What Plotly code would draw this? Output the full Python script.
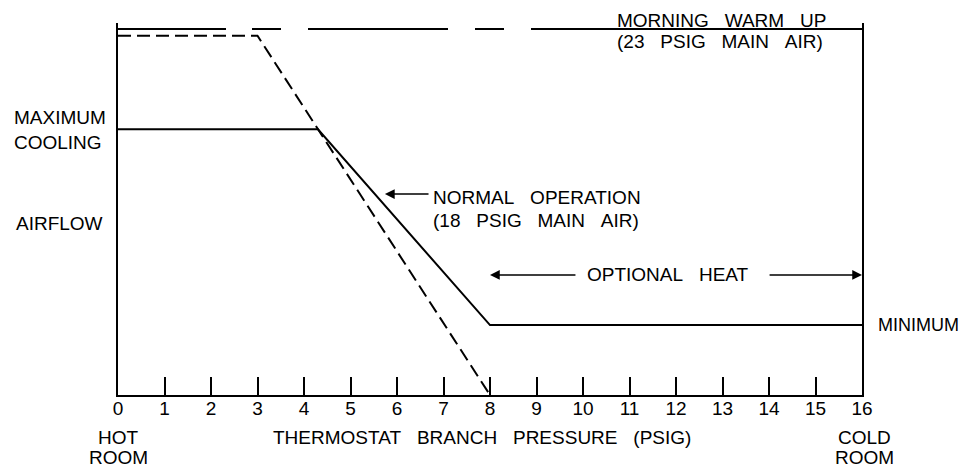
import plotly.graph_objects as go

# ---- data ----
tick_values = [0, 1, 2, 3, 4, 5, 6, 7, 8, 9, 10, 11, 12, 13, 14, 15, 16]
tick_labels = ["0", "1", "2", "3", "4", "5", "6", "7", "8", "9", "10",
               "11", "12", "13", "14", "15", "16"]

# normal operation (18 psig main air): airflow vs branch pressure
normal_pressure = [0, 4.3, 8, 16]
normal_airflow = [100, 100, 26.3, 26.3]

# morning warm-up response (dashed)
warmup_pressure = [0, 3, 8]
warmup_airflow = [135.2, 135.2, 0]

# morning warm-up (23 psig main air) reference line
warmup_main_pressure = [0, 16]
warmup_main_airflow = [137.7, 137.7]

FONT = "Liberation Sans, Arial, sans-serif"
SP = "\u00a0\u00a0\u00a0"

fig = go.Figure()

fig.add_trace(go.Scatter(
    x=warmup_main_pressure, y=warmup_main_airflow, mode="lines",
    line=dict(color="black", width=2,
              dash="108px,26px,29px,27px,140px,27px,29px,27px,340px"),
    hoverinfo="skip", showlegend=False))

fig.add_trace(go.Scatter(
    x=warmup_pressure, y=warmup_airflow, mode="lines",
    line=dict(color="black", width=2, dash="13px,6px"),
    hoverinfo="skip", showlegend=False))

fig.add_trace(go.Scatter(
    x=normal_pressure, y=normal_airflow, mode="lines",
    line=dict(color="black", width=2),
    hoverinfo="skip", showlegend=False))

def txt(text, x, y, xanchor="center", size=19):
    return dict(text=text, x=x, y=y, xref="paper", yref="paper",
                xanchor=xanchor, yanchor="middle", showarrow=False,
                font=dict(family=FONT, size=size, color="black"))

annotations = [
    txt("MAXIMUM", -0.1425, 0.747, "left"),
    txt("COOLING", -0.1425, 0.680, "left"),
    txt("AIRFLOW", -0.078, 0.462),
    txt("HOT", 0.0, -0.113),
    txt("ROOM", 0.0, -0.169),
    txt("COLD", 1.003, -0.113),
    txt("ROOM", 1.003, -0.169),
    txt("THERMOSTAT" + SP + "BRANCH" + SP + "PRESSURE" + SP + "(PSIG)", 0.4886, -0.113),
    txt("MORNING" + SP + "WARM" + SP + "UP", 0.668, 1.008, "left"),
    txt("(23" + SP + "PSIG" + SP + "MAIN" + SP + "AIR)", 0.668, 0.9516, "left"),
    txt("NORMAL" + SP + "OPERATION", 0.421, 0.532, "left"),
    txt("(18" + SP + "PSIG" + SP + "MAIN" + SP + "AIR)", 0.421, 0.470, "left"),
    txt("OPTIONAL" + SP + "HEAT", 0.739, 0.3226),
    txt("MINIMUM", 1.019, 0.188, "left", size=18),
]

def arrow(x, y, ax, ay):
    return dict(text="", x=x, y=y, ax=ax, ay=ay, xref="x", yref="y",
                axref="x", ayref="y", showarrow=True, arrowhead=2,
                arrowsize=1.3, arrowwidth=1.5, arrowcolor="black",
                standoff=0, startstandoff=0)

annotations += [
    arrow(5.74, 75.6, 6.71, 75.6),
    arrow(8.0, 45.2, 9.87, 45.2),
    arrow(16.0, 45.2, 13.98, 45.2),
]

fig.update_layout(
    width=963, height=470,
    margin=dict(l=118, r=101, t=23, b=75),
    paper_bgcolor="white", plot_bgcolor="white",
    font=dict(family=FONT, size=19, color="black"),
    annotations=annotations,
    showlegend=False,
    xaxis=dict(range=[0, 16], tickvals=tick_values, ticktext=tick_labels,
               ticks="inside", ticklen=18, tickwidth=2, tickcolor="black",
               ticklabelstandoff=-5,
               showline=True, linewidth=2, linecolor="black", mirror=False,
               showgrid=False, zeroline=False,
               tickfont=dict(family=FONT, size=19, color="black")),
    yaxis=dict(range=[0, 140], showticklabels=False, ticks="",
               showline=True, linewidth=2, linecolor="black", mirror=True,
               showgrid=False, zeroline=False),
)

fig.write_html(
    "out.html",
    config={"displayModeBar": False},
    post_script="document.body.style.margin='0';document.body.style.overflow='hidden';",
)
